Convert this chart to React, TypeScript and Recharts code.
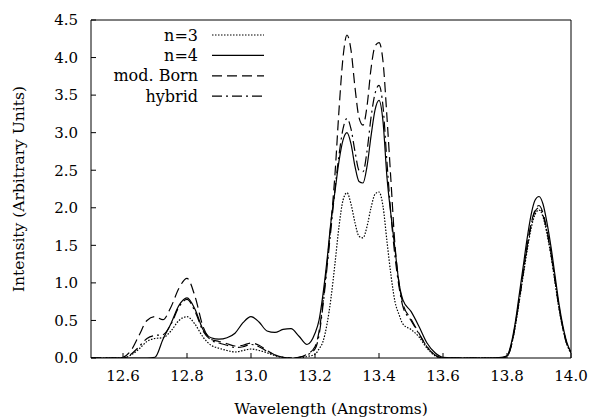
import { LineChart, Line, XAxis, YAxis, Legend } from "recharts";

// wavelength grid (Angstroms), finer where the peaks are steep
const wavelength = [
  12.5, 12.525, 12.55, 12.575, 12.6, 12.625, 12.65, 12.675, 12.7, 12.725, 12.75, 12.775, 12.8, 12.825,
  12.85, 12.875, 12.9, 12.925, 12.95, 12.975, 13.0, 13.025, 13.05, 13.075, 13.1, 13.125, 13.15, 13.175,
  13.2, 13.2125, 13.225, 13.2375, 13.25, 13.2625, 13.275, 13.2875, 13.3, 13.3125, 13.325, 13.3375,
  13.35, 13.3625, 13.375, 13.3875, 13.4, 13.4125, 13.425, 13.4375, 13.45, 13.4625, 13.475,
  13.5, 13.525, 13.55, 13.575, 13.6, 13.65, 13.7, 13.75, 13.775,
  13.8, 13.8125, 13.825, 13.8375, 13.85, 13.8625, 13.875, 13.8875, 13.9, 13.9125, 13.925, 13.9375,
  13.95, 13.9625, 13.975, 13.9875, 14.0,
];

const n3 = [
  0, 0, 0, 0, 0, 0.04, 0.12, 0.22, 0.26, 0.27, 0.36, 0.5, 0.55, 0.45,
  0.28, 0.17, 0.13, 0.1, 0.08, 0.1, 0.12, 0.1, 0.07, 0.03, 0.01, 0, 0, 0.02,
  0.05, 0.12, 0.22, 0.45, 0.8, 1.26, 1.75, 2.1, 2.2, 2.05, 1.8, 1.62,
  1.6, 1.75, 2.0, 2.18, 2.21, 2.02, 1.55, 1.1, 0.75, 0.58, 0.45,
  0.38, 0.28, 0.13, 0.03, 0, 0, 0, 0, 0,
  0.02, 0.15, 0.4, 0.73, 1.08, 1.42, 1.72, 1.91, 1.97, 1.88, 1.65, 1.36,
  1.01, 0.66, 0.38, 0.18, 0.07,
];

const n4 = [
  0, 0, 0, 0, 0, 0, 0, 0, 0.01, 0.25, 0.46, 0.7, 0.8, 0.65,
  0.38, 0.27, 0.25, 0.27, 0.33, 0.47, 0.55, 0.48, 0.36, 0.34, 0.38, 0.39, 0.29, 0.18,
  0.33, 0.5, 0.85, 1.3, 1.82, 2.22, 2.62, 2.9, 3.0, 2.85, 2.55, 2.35,
  2.33, 2.55, 2.95, 3.3, 3.43, 3.15, 2.4, 1.9, 1.45, 1.0, 0.77,
  0.62, 0.42, 0.2, 0.07, 0.01, 0, 0, 0, 0.005,
  0.03, 0.18, 0.45, 0.82, 1.2, 1.58, 1.9, 2.1, 2.15, 2.05, 1.8, 1.48,
  1.1, 0.72, 0.42, 0.2, 0.08,
];

const modBorn = [
  0, 0, 0, 0, 0.01, 0.1, 0.3, 0.5, 0.55, 0.51, 0.68, 0.93, 1.06, 0.82,
  0.42, 0.25, 0.22, 0.19, 0.16, 0.17, 0.2, 0.17, 0.1, 0.04, 0.01, 0, 0.01, 0.05,
  0.15, 0.35, 0.75, 1.25, 1.8, 2.45, 3.3, 4.0, 4.3, 4.1, 3.6, 3.2,
  3.1, 3.35, 3.85, 4.15, 4.2, 3.95, 3.2, 2.35, 1.5, 1.0, 0.72,
  0.52, 0.33, 0.15, 0.04, 0, 0, 0, 0, 0,
  0.02, 0.15, 0.42, 0.76, 1.12, 1.48, 1.78, 1.97, 2.03, 1.93, 1.7, 1.4,
  1.04, 0.68, 0.39, 0.18, 0.07,
];

const hybrid = [
  0, 0, 0, 0, 0, 0.05, 0.15, 0.26, 0.3, 0.31, 0.45, 0.68, 0.78, 0.62,
  0.36, 0.24, 0.2, 0.17, 0.14, 0.15, 0.18, 0.15, 0.09, 0.04, 0.01, 0, 0.01, 0.04,
  0.12, 0.3, 0.7, 1.2, 1.72, 2.25, 2.7, 3.05, 3.19, 3.05, 2.75, 2.5,
  2.48, 2.75, 3.2, 3.52, 3.63, 3.35, 2.6, 1.9, 1.35, 0.95, 0.68,
  0.5, 0.32, 0.15, 0.04, 0, 0, 0, 0, 0,
  0.02, 0.15, 0.41, 0.75, 1.1, 1.46, 1.76, 1.95, 2.0, 1.9, 1.68, 1.38,
  1.03, 0.67, 0.39, 0.18, 0.07,
];

const xTicks = [12.6, 12.8, 13.0, 13.2, 13.4, 13.6, 13.8, 14.0];
const yTicks = [0, 0.5, 1, 1.5, 2, 2.5, 3, 3.5, 4, 4.5];

const series = [
  { key: "n3", name: "n=3", dash: "1.5 1.5" },
  { key: "n4", name: "n=4", dash: undefined },
  { key: "modBorn", name: "mod. Born", dash: "10 5" },
  { key: "hybrid", name: "hybrid", dash: "10 4 2 4" },
];

const rows = wavelength.map((wl, i) => ({
  wl,
  n3: n3[i],
  n4: n4[i],
  modBorn: modBorn[i],
  hybrid: hybrid[i],
}));

// no Times-like face available, DejaVu Serif is the closest serif
const SERIF = "DejaVu Serif, serif";
const tickStyle = { fontSize: 15, fill: "#000", fontFamily: SERIF };

function KeyBox() {
  return (
    <svg width={290} height={110}>
      {series.map((s, i) => {
        const y = 35 + i * 20.4;
        return (
          <g key={s.key}>
            <text
              x={198}
              y={y}
              textAnchor="end"
              dominantBaseline="central"
              fontSize={16}
              fontFamily={SERIF}
              fill="#000"
            >
              {s.name}
            </text>
            <line x1={212} x2={264} y1={y} y2={y} stroke="#000" strokeWidth={1.2} strokeDasharray={s.dash} />
          </g>
        );
      })}
    </svg>
  );
}

export default function App() {
  return (
    <div
      style={{
        position: "absolute",
        left: 0,
        top: 0,
        width: 589,
        height: 419,
        background: "#fff",
        fontFamily: SERIF,
      }}
    >
      <LineChart width={589} height={419} data={rows} margin={{ top: 19, right: 17, bottom: 0, left: 0 }}>
        <XAxis
          dataKey="wl"
          type="number"
          domain={[12.5, 14]}
          ticks={xTicks}
          allowDataOverflow
          height={61}
          stroke="#000"
          tickSize={-5}
          tickMargin={17}
          tick={tickStyle}
          tickFormatter={(v: number) => v.toFixed(1)}
          label={{
            value: "Wavelength (Angstroms)",
            position: "insideBottom",
            offset: 5,
            fontSize: 15.5,
            fontFamily: SERIF,
            fill: "#000",
          }}
        />
        <XAxis
          xAxisId="top"
          dataKey="wl"
          orientation="top"
          type="number"
          domain={[12.5, 14]}
          ticks={xTicks}
          allowDataOverflow
          height={1}
          stroke="#000"
          tickSize={-5}
          tick={false}
        />
        <YAxis
          type="number"
          domain={[0, 4.5]}
          ticks={yTicks}
          allowDataOverflow
          width={91}
          stroke="#000"
          tickSize={-5}
          tickMargin={18}
          tick={tickStyle}
          tickFormatter={(v: number) => v.toFixed(1)}
          label={{
            value: "Intensity (Arbitrary Units)",
            angle: -90,
            position: "insideLeft",
            offset: 18,
            fontSize: 15.5,
            fontFamily: SERIF,
            fill: "#000",
            style: { textAnchor: "middle" },
          }}
        />
        <YAxis
          yAxisId="right"
          orientation="right"
          type="number"
          domain={[0, 4.5]}
          ticks={yTicks}
          allowDataOverflow
          width={1}
          stroke="#000"
          tickSize={-5}
          tick={false}
        />
        <Legend
          layout="horizontal"
          verticalAlign="middle"
          align="center"
          wrapperStyle={{ left: 0, top: 0, width: 290, height: 110 }}
          content={() => <KeyBox />}
        />
        {series.map((s) => (
          <Line
            key={s.key}
            dataKey={s.key}
            name={s.name}
            type="monotone"
            stroke="#000"
            strokeWidth={1.2}
            strokeDasharray={s.dash}
            dot={false}
            activeDot={false}
            isAnimationActive={false}
          />
        ))}
        {/* invisible copy bound to the top/right axes so the frame is drawn */}
        <Line
          xAxisId="top"
          yAxisId="right"
          dataKey="n4"
          stroke="none"
          legendType="none"
          dot={false}
          activeDot={false}
          isAnimationActive={false}
        />
      </LineChart>
    </div>
  );
}
